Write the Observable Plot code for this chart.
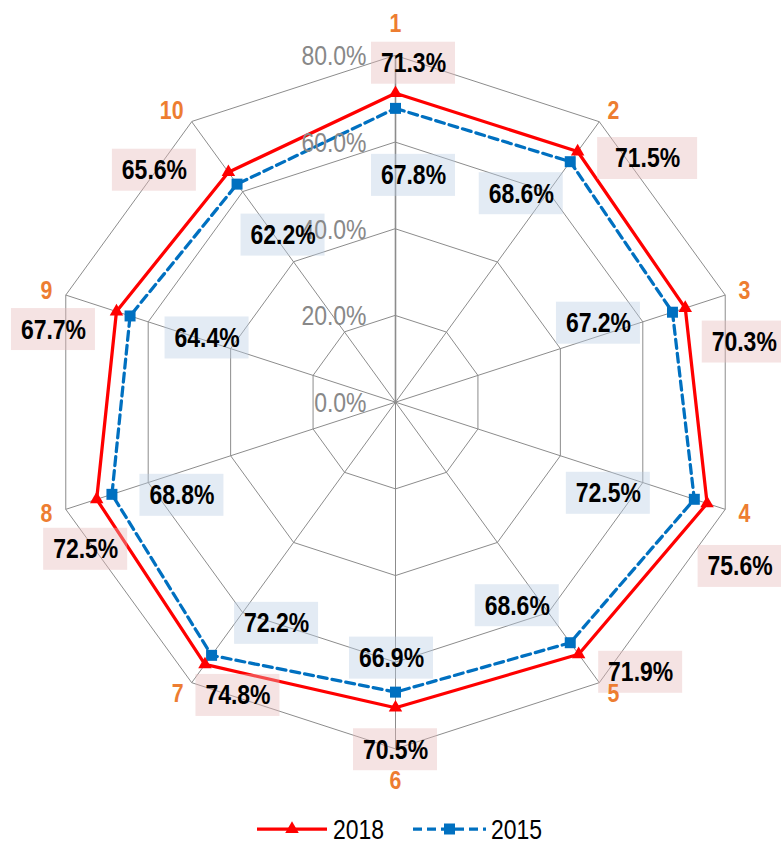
<!DOCTYPE html>
<html>
<head>
<meta charset="utf-8">
<script src="https://cdn.jsdelivr.net/npm/d3@7"></script>
<script src="https://cdn.jsdelivr.net/npm/@observablehq/plot@0.6"></script>
<style>
  html, body { margin: 0; padding: 0; background: #fff; }
  #chart svg { display: block; }
  #legend { display: block; font-family: "Liberation Sans", Arial, sans-serif; }
</style>
</head>
<body>
<div id="chart"></div>
<svg id="legend" width="781" height="45"></svg>
<script>
// Ten survey items, two years
const categories = ["1", "2", "3", "4", "5", "6", "7", "8", "9", "10"];
const values2018 = [71.3, 71.5, 70.3, 75.6, 71.9, 70.5, 74.8, 72.5, 67.7, 65.6];
const values2015 = [67.8, 68.6, 67.2, 72.5, 68.6, 66.9, 72.2, 68.8, 64.4, 62.2];
const tickValues = [0, 20, 40, 60, 80];
const tickLabels = ["0.0%", "20.0%", "40.0%", "60.0%", "80.0%"];
const seriesNames = ["2018", "2015"];

// Pixel nudges of each value label from its point (layout only)
const nudge2018 = [[18, -30], [70, 7], [59, 34], [33, 63], [62, 18], [0, 42], [33, 31], [-11, 50], [-63, 18], [-74, -2]];
const nudge2015 = [[18, 67], [-49, 32], [-74, 11], [-86, -6], [-53, -37], [-4, -34], [65, -32], [70, 1], [77, 22], [46, 51]];
const boxW2018 = [84, 100, 84, 84, 84, 84, 84, 84, 84, 84];

// Arial-metric face, squeezed horizontally to a narrow cut after rendering
const FONT = '"Liberation Sans", Arial, sans-serif';
const SQUEEZE = 0.82;
const RMAX = 80;
const cx = 395, cy = 401.7, R = 346.7;
const k = R / RMAX; // px per percentage point

const n = categories.length;
const ang = i => (i * 2 * Math.PI) / n;
const px = (r, i) => r * Math.sin(ang(i));
const py = (r, i) => r * Math.cos(ang(i));

// grid rings
const rings = [];
for (const t of tickValues.filter(t => t > 0)) {
  for (let i = 0; i < n; i++) rings.push({ ring: t, x: px(t, i), y: py(t, i) });
}

const pts = (vals, name) => vals.map((v, i) => ({ series: name, i, v, x: px(v, i), y: py(v, i) }));
const p2018 = pts(values2018, seriesNames[0]);
const p2015 = pts(values2015, seriesNames[1]);

const labels = (p, nudges, widths) => p.map((d, i) => ({
  ...d,
  lx: d.x + nudges[i][0] / k,
  ly: d.y - nudges[i][1] / k,
  w: widths ? widths[i] : 84,
  text: d.v.toFixed(1) + "%"
}));
const l2018 = labels(p2018, nudge2018, boxW2018);
const l2015 = labels(p2015, nudge2015, null);

// category label anchors just outside the outer ring
const cats = categories.map((c, i) => {
  const s = Math.sin(ang(i)), co = Math.cos(ang(i));
  const side = Math.abs(s) < 0.1 ? "middle" : (s > 0 ? "start" : "end");
  const off = 14 + (side === "middle" ? 18 : 0);
  return { c, side, x: px(RMAX, i) + (off * s) / k, y: py(RMAX, i) + (off * co) / k };
});

const catMark = side => Plot.text(cats.filter(d => d.side === side), {
  x: "x", y: "y", text: "c", textAnchor: side,
  fill: "#ED7D31", fontSize: 26, fontWeight: "bold", fontFamily: FONT
});

const boxMark = (l, fill) => Plot.rect(l, {
  x1: d => d.lx - d.w / 2 / k, x2: d => d.lx + d.w / 2 / k,
  y1: d => d.ly - 21 / k, y2: d => d.ly + 21 / k,
  fill, fillOpacity: 0.4
});

const valueText = l => Plot.text(l, {
  x: "lx", y: "ly", text: "text",
  fill: "#000", fontSize: 28, fontWeight: "bold", fontFamily: FONT
});

const chart = Plot.plot({
  width: 781,
  height: 800,
  margin: 0,
  x: { axis: null, domain: [-RMAX, RMAX], range: [cx - R, cx + R] },
  y: { axis: null, domain: [-RMAX, RMAX], range: [cy + R, cy - R] },
  marks: [
    Plot.line(rings, { x: "x", y: "y", z: "ring", curve: "linear-closed", stroke: "#8c8c8c", strokeWidth: 1 }),
    Plot.link(categories, {
      x1: () => 0, y1: () => 0,
      x2: (d, i) => px(RMAX, i), y2: (d, i) => py(RMAX, i),
      stroke: "#8c8c8c", strokeWidth: (d, i) => (i === 0 ? 1.6 : 1)
    }),
    Plot.line(p2015, { x: "x", y: "y", curve: "linear-closed", stroke: "#0070C0", strokeWidth: 3.25, strokeDasharray: "9,5" }),
    Plot.line(p2018, { x: "x", y: "y", curve: "linear-closed", stroke: "#FF0000", strokeWidth: 3.25 }),
    Plot.dot(p2015, { x: "x", y: "y", symbol: "square", r: 6.2, fill: "#0070C0" }),
    Plot.dot(p2018, { x: "x", y: "y", symbol: "triangle", r: 5, fill: "#FF0000" }),
    boxMark(l2018, "#e6b9b8"),
    boxMark(l2015, "#b8cce4"),
    Plot.text(tickValues, {
      x: () => 0, y: d => d, text: (d, i) => tickLabels[i],
      textAnchor: "end", dx: -29, dy: 1,
      fill: "#888888", fontSize: 28, fontFamily: FONT
    }),
    valueText(l2018),
    valueText(l2015),
    catMark("middle"),
    catMark("start"),
    catMark("end")
  ]
});
document.getElementById("chart").appendChild(chart);

// legend below the chart
const lg = d3.select("#legend");
const items = [
  { name: seriesNames[0], color: "#FF0000", dash: null, sym: d3.symbolTriangle, size: 80, x1: 257, x2: 327, tx: 333 },
  { name: seriesNames[1], color: "#0070C0", dash: "9,5", sym: d3.symbolSquare, size: 121, x1: 413, x2: 486, tx: 491 }
];
for (const it of items) {
  const g = lg.append("g");
  g.append("line").attr("x1", it.x1).attr("x2", it.x2).attr("y1", 29).attr("y2", 29)
    .attr("stroke", it.color).attr("stroke-width", 3.25)
    .attr("stroke-dasharray", it.dash);
  g.append("path").attr("d", d3.symbol(it.sym, it.size)())
    .attr("transform", `translate(${(it.x1 + it.x2) / 2},29)`).attr("fill", it.color);
  g.append("text").attr("x", it.tx).attr("y", 39).attr("font-size", 28)
    .attr("fill", "#000").text(it.name);
}

// narrow the type: compress every label to 82% of its natural width
document.querySelectorAll("#chart svg text, #legend text").forEach(t => {
  const w = t.getComputedTextLength();
  if (w > 0) {
    t.setAttribute("textLength", (w * SQUEEZE).toFixed(2));
    t.setAttribute("lengthAdjust", "spacingAndGlyphs");
  }
});
</script>
</body>
</html>
